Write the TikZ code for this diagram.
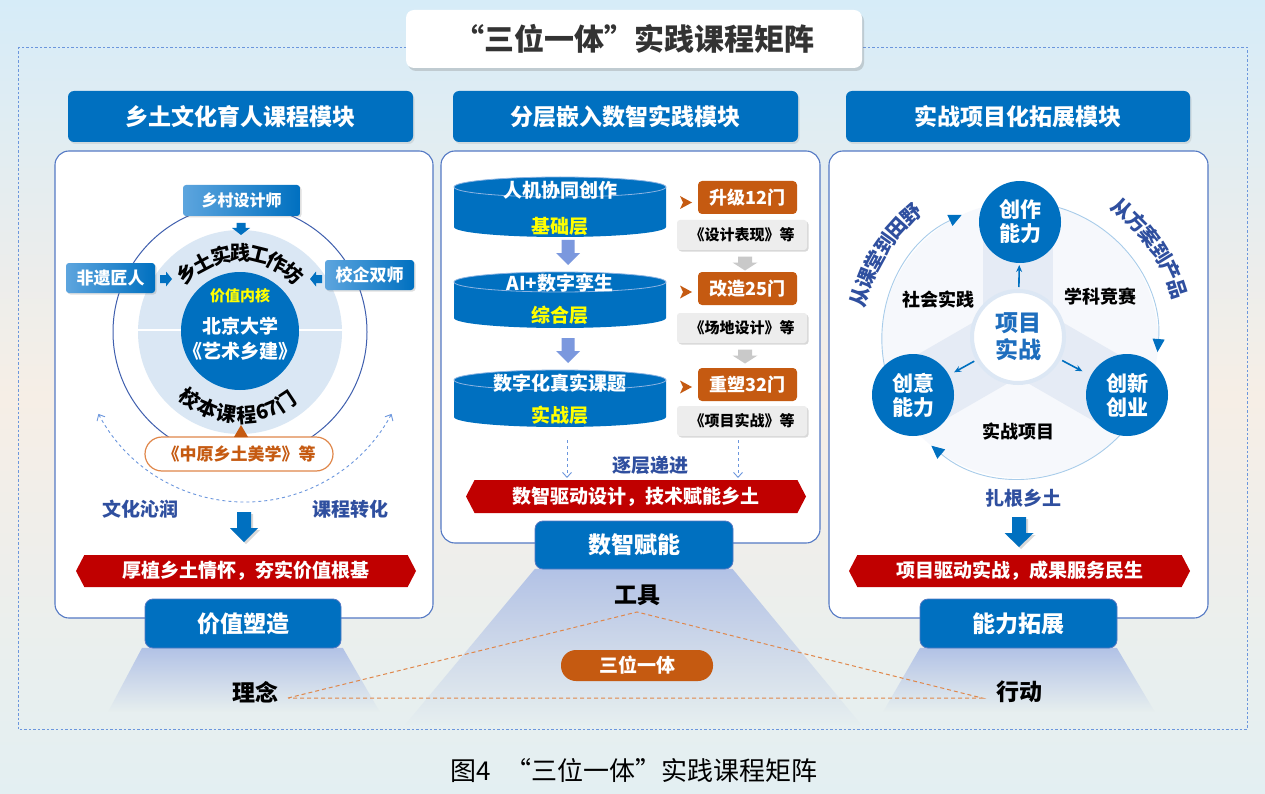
\documentclass[tikz,border=0pt]{standalone}
\usepackage{fontspec}
\setmainfont{Noto Sans CJK SC}
\usetikzlibrary{shapes.geometric,shapes.symbols,arrows.meta,shadows,calc,fadings}
\newcommand\myfs[1]{\fontsize{#1}{#1}\selectfont\bfseries}
% block arrow: [options]{cx}{cy}{rotation}{length}{head length}{width}{shaft width}
\newcommand\blkarr[8][mblue]{%
  \begin{scope}[shift={(#2,#3)}, rotate=#4]
  \fill[#1] ({-#8/2},{-#5/2}) -- ({#8/2},{-#5/2}) -- ({#8/2},{#5/2-#6}) -- ({#7/2},{#5/2-#6}) -- (0,{#5/2}) -- ({-#7/2},{#5/2-#6}) -- ({-#8/2},{#5/2-#6}) -- cycle;
  \end{scope}}
\tikzfading[name=fadedown, top color=transparent!5, bottom color=transparent!100]
\definecolor{mblue}{HTML}{0070C0}
\definecolor{lgblue}{HTML}{5DA5DE}
\definecolor{dblue}{HTML}{2F4F9F}
\definecolor{bred}{HTML}{C00000}
\definecolor{orng}{HTML}{C55A11}
\definecolor{lorng}{HTML}{E0874A}
\definecolor{pborder}{HTML}{5479C4}
\definecolor{framec}{HTML}{6B96DD}
\definecolor{bgtop}{HTML}{D6ECF8}
\definecolor{bgmid}{HTML}{F6EEE6}
\definecolor{bgbot}{HTML}{E3EFF2}
\definecolor{trap}{HTML}{AFC0E6}
\definecolor{ltdisc}{HTML}{DAE7F4}
\definecolor{cline}{HTML}{3F5FAE}
\definecolor{ylw}{HTML}{FFFF00}
\definecolor{cyledge}{HTML}{8DB4E2}
\definecolor{peri}{HTML}{7B98DE}
\definecolor{gboxc}{HTML}{EDEDED}
\definecolor{garrow}{HTML}{C9C9C9}
\definecolor{arcl}{HTML}{A8CCEA}
\definecolor{bandc}{HTML}{E5EBF5}
\definecolor{discf}{HTML}{F6F8FC}
\definecolor{ttl}{HTML}{333333}
\definecolor{glow}{HTML}{DCE7F4}
\definecolor{pcblue}{HTML}{1E6EBE}
\begin{document}
\begin{tikzpicture}[x=1pt,y=-1pt,
  hdr/.style={rounded corners=6pt, fill=mblue, text=white, font=\myfs{23}, minimum width=345pt, minimum height=51pt, inner sep=0pt, drop shadow={opacity=0.18, shadow xshift=1.5pt, shadow yshift=-2pt}},
  panel/.style={rounded corners=14pt, fill=white, draw=pborder, line width=1.1pt, inner sep=0pt},
  lbl/.style={rounded corners=8pt, fill=mblue, draw=pborder, line width=0.8pt, text=white, font=\myfs{23}, inner sep=0pt},
  banner/.style={signal, signal to=east and west, signal pointer angle=125, fill=bred, text=white, font=\myfs{19}, inner sep=0pt, minimum height=32pt},
  gbx/.style={left color=lgblue, right color=mblue, text=white, font=\myfs{16}, rounded corners=3pt, inner sep=0pt, minimum height=31pt, drop shadow={opacity=0.25, shadow xshift=1.5pt, shadow yshift=-1.5pt}},
  obox/.style={fill=orng, rounded corners=4pt, minimum width=99pt, minimum height=33pt, text=white, font=\myfs{18}, inner sep=0pt},
  gbox/.style={fill=gboxc, rounded corners=3pt, minimum width=130pt, minimum height=30pt, font=\myfs{15}, inner sep=0pt, drop shadow={opacity=0.3, shadow xshift=1.5pt, shadow yshift=-1.5pt}},
  ncirc/.style={circle, fill=mblue, minimum size=82pt, inner sep=0pt, text=white, font=\fontsize{21}{24}\selectfont\bfseries, align=center},
  txt/.style={font=\myfs{#1}},
  blt/.style={text=dblue, font=\myfs{19}},
  dsh/.style={framec, dashed, line width=0.9pt},
  sarrow/.style={mblue, line width=1.6pt, -{Stealth[length=7pt,width=6pt]}}
]
% background
\shade[top color=bgtop, bottom color=bgbot, middle color=bgmid] (0,0) rectangle (1265,794);
\useasboundingbox (0,0) rectangle (1265,794);
\draw[framec, line width=0.9pt, dash pattern=on 2.5pt off 2pt] (18,47) rectangle (1247,729);

% title
\node[fill=white, rounded corners=8pt, minimum width=456pt, minimum height=58pt, inner sep=0pt, text=ttl, font=\myfs{30}, drop shadow={opacity=0.3, shadow xshift=2pt, shadow yshift=-3pt}] (title) at (634,39) {“三位一体”实践课程矩阵};

% headers
\node[hdr] (h1) at (240.5,116.5) {乡土文化育人课程模块};
\node[hdr] (h2) at (625.5,116.5) {分层嵌入数智实践模块};
\node[hdr, minimum width=344pt] (h3) at (1018,116.5) {实战项目化拓展模块};

% trapezoids
\fill[trap, path fading=fadedown] (142,648) -- (343,648) -- (380,712) -- (108,712) -- cycle;
\fill[trap, path fading=fadedown] (535,569) -- (733,569) -- (862,725) -- (405,725) -- cycle;
\fill[trap, path fading=fadedown] (920,648) -- (1117,648) -- (1155,712) -- (883,712) -- cycle;

% panels
\node[panel, minimum width=378pt, minimum height=467pt] (p1) at (244,384.5) {};
\node[panel, minimum width=379pt, minimum height=392pt] (p2) at (630.5,347) {};
\node[panel, minimum width=379pt, minimum height=467pt] (p3) at (1018.5,384.5) {};

% ---------- left panel ----------
\coordinate (lc) at (240,332);
\draw[cline, line width=1pt] (lc) circle[radius=127];
\fill[ltdisc] (lc) circle[radius=102];
\draw[white, line width=2pt] (138,330) -- (342,330);
\node[circle, fill=mblue, minimum size=118pt, inner sep=0pt] (core) at (240,331) {};
\node[text=ylw, font=\myfs{15}] (vk) at (240,296) {价值内核};
\node[text=white, font=\myfs{19}] (bd) at (240,326) {北京大学};
\node[text=white, font=\myfs{19}] (ysx) at (240,351) {《艺术乡建》};
\foreach \ch [count=\i, evaluate=\i as \ang using 132-(\i-1)*14] in {乡,土,实,践,工,作,坊}
  \node[font=\myfs{20}, rotate=\ang-90, inner sep=0pt] (wa\i) at ({240+79*cos(\ang)},{332-79*sin(\ang)}) {\ch};
\foreach \ch/\ang [count=\i] in {校/-127,本/-113,课/-99,程/-85,6/-74.5,7/-67,门/-56.5}
  \node[font=\myfs{20}, rotate=\ang+90, inner sep=0pt] (wb\i) at ({240+83*cos(\ang)},{332-83*sin(\ang)}) {\ch};

\node[gbx, minimum width=117pt] (xc) at (241.5,200.5) {乡村设计师};
\blkarr{241}{229}{0}{12}{7}{18}{9}
\node[gbx, minimum width=89pt, minimum height=30pt, font=\myfs{17}] (fy) at (110.5,278) {非遗匠人};
\blkarr{166}{279}{90}{12}{6}{15}{8}
\node[gbx, minimum width=89pt, minimum height=30pt, font=\myfs{17}] (xq) at (369.5,275) {校企双师};
\blkarr{316}{279}{-90}{12}{6}{15}{8}

\coordinate (ldA) at (98.4,413.9);
\draw[dsh, {Straight Barb[length=5pt,width=9pt]}-{Straight Barb[length=5pt,width=9pt]}] (ldA) arc[start angle=152, end angle=28, radius=166];
\node[draw=lorng, line width=1.2pt, fill=white, rounded corners=17pt, minimum width=188pt, minimum height=34pt, inner sep=0pt, text=orng, font=\myfs{17}] (zy) at (239,454) {《中原乡土美学》等};
\fill[orng] (234,437) -- (241,425) -- (248,437) -- cycle;

\node[blt] (wh) at (140,509) {文化沁润};
\node[blt] (kc) at (350,509) {课程转化};
\blkarr[mblue, drop shadow={opacity=0.3, shadow xshift=2pt, shadow yshift=-2pt}]{244}{527}{0}{30}{14}{28}{14}
\node[banner, minimum width=340pt] (b1) at (246,571) {厚植乡土情怀，夯实价值根基};

% ---------- middle panel ----------
\foreach \yt/\yb in {187/227,282/318,380/417} {
  \fill[mblue] (454,\yt) -- (454,\yb) arc[start angle=180, end angle=0, x radius=106, y radius=10] -- (666,\yt) arc[start angle=0, end angle=-180, x radius=106, y radius=10] -- cycle;
  \draw[cyledge, line width=0.8pt] (560,\yt) ellipse[x radius=106, y radius=10];
}
\node[text=white, font=\myfs{19}] (c1a) at (560,190) {人机协同创作};
\node[text=ylw, font=\myfs{19}] (c1b) at (560,226) {基础层};
\node[text=white, font=\myfs{19}] (c2a) at (560,283) {AI+数字孪生};
\node[text=ylw, font=\myfs{19}] (c2b) at (560,315) {综合层};
\node[text=white, font=\myfs{19}] (c3a) at (560,383) {数字化真实课题};
\node[text=ylw, font=\myfs{19}] (c3b) at (560,415) {实战层};
\blkarr[peri]{568}{252.5}{0}{25}{12}{24}{13}
\blkarr[peri]{568}{350.5}{0}{25}{12}{24}{13}

\foreach \yy in {202.5,292,387}
  \fill[orng] (680,\yy-6.5) -- (692,\yy) -- (680,\yy+6.5) -- (683,\yy) -- cycle;
\node[obox] (o1) at (747.5,197.5) {升级12门};
\node[obox] (o2) at (747.5,288.5) {改造25门};
\node[obox] (o3) at (747.5,384.5) {重塑32门};
\node[gbox] (g1) at (742,235) {《设计表现》等};
\node[gbox] (g2) at (742,328) {《场地设计》等};
\node[gbox] (g3) at (742,421) {《项目实战》等};
\blkarr[garrow]{745}{263.5}{0}{14}{8}{25}{14}
\blkarr[garrow]{745}{356.5}{0}{14}{8}{25}{14}

\coordinate (d1s) at (567,440); \coordinate (d1e) at (567,478);
\coordinate (d2s) at (738,440); \coordinate (d2e) at (738,478);
\draw[dsh, -{Straight Barb[length=5pt,width=9pt]}] (d1s) -- (d1e);
\draw[dsh, -{Straight Barb[length=5pt,width=9pt]}] (d2s) -- (d2e);
\node[blt] (zc) at (650,465) {逐层递进};
\node[banner, minimum width=340pt, minimum height=33pt] (b2) at (636,496.5) {数智驱动设计，技术赋能乡土};

% ---------- right panel ----------
\coordinate (rc) at (1020,340);
\coordinate (pcc) at (1018,337);
\fill[discf] (rc) circle[radius=138];
\foreach \r in {0,120,-120}
  \fill[bandc, rotate around={\r:(pcc)}] (983,222) rectangle (1053,337);
\draw[arcl, line width=0.9pt, -{Triangle[length=13pt,width=12pt,color=mblue]}] ($(rc)+(-200:138)$) arc[start angle=-200, end angle=-115, radius=138];
\draw[arcl, line width=0.9pt, -{Triangle[length=13pt,width=12pt,color=mblue]}] ($(rc)+(-75:138)$) arc[start angle=-75, end angle=5, radius=138];
\draw[arcl, line width=0.9pt, -{Triangle[length=13pt,width=12pt,color=mblue]}] ($(rc)+(40:138)$) arc[start angle=40, end angle=130, radius=138];

\node[ncirc] (cz) at (1020,222) {创作\\能力};
\node[ncirc] (cy) at (913,395) {创意\\能力};
\node[ncirc] (cx) at (1127,395) {创新\\创业};
\node[circle, fill=white, draw=glow, line width=4pt, minimum size=92pt, inner sep=0pt, text=pcblue, font=\fontsize{23}{27}\selectfont\bfseries, align=center] (pc) at (pcc) {项目\\实战};
\draw[sarrow] ($(pc)!50pt!(cz)$) -- ($(pc)!72pt!(cz)$);
\draw[sarrow] ($(pc)!50pt!(cy)$) -- ($(pc)!73pt!(cy)$);
\draw[sarrow] ($(pc)!50pt!(cx)$) -- ($(pc)!73pt!(cx)$);
\node[txt=18] (sh) at (938,300) {社会实践};
\node[txt=18] (xk) at (1100,297) {学科竞赛};
\node[txt=18] (sz) at (1018,432) {实战项目};
\foreach \ch [count=\i, evaluate=\i as \ang using 165-(\i-1)*6.8] in {从,课,堂,到,田,野}
  \node[text=dblue, font=\myfs{20}, rotate=\ang-90, inner sep=0pt] (ra\i) at ({1020+166*cos(\ang)},{340-166*sin(\ang)}) {\ch};
\foreach \ch [count=\i, evaluate=\i as \ang using 52-(\i-1)*6.8] in {从,方,案,到,产,品}
  \node[text=dblue, font=\myfs{20}, rotate=\ang-90, inner sep=0pt] (rb\i) at ({1020+166*cos(\ang)},{340-166*sin(\ang)}) {\ch};
\node[blt] (zg) at (1023,498) {扎根乡土};
\blkarr[mblue, drop shadow={opacity=0.3, shadow xshift=2pt, shadow yshift=-2pt}]{1019}{532}{0}{30}{14}{29}{14}
\node[banner, minimum width=341pt] (b3) at (1019.5,571) {项目驱动实战，成果服务民生};

% ---------- bottom ----------
\node[lbl, minimum width=196pt, minimum height=49pt] (l1) at (243,623.5) {价值塑造};
\node[lbl, minimum width=198pt, minimum height=48pt] (l2) at (634,545) {数智赋能};
\node[lbl, minimum width=197pt, minimum height=49pt] (l3) at (1018.5,623.5) {能力拓展};
\node[txt=23] (ln) at (255,692) {理念};
\node[txt=23] (gj) at (637,595) {工具};
\node[txt=23] (xd) at (1019,692) {行动};
\coordinate (tA) at (637,612);
\coordinate (tL) at (288,698);
\coordinate (tR) at (982,698);
\draw[lorng, line width=1pt, dash pattern=on 4pt off 3pt] (tL) -- (tA) -- (tR) -- cycle;
\node[fill=orng, rounded corners=15pt, minimum width=152pt, minimum height=31pt, inner sep=0pt, text=white, font=\myfs{19}] (swyt) at (637,665.5) {三位一体};
\node[font=\fontsize{26}{26}\selectfont] (cap) at (634,771) {图4\hspace{14pt}“三位一体”实践课程矩阵};
\end{tikzpicture}
\end{document}
